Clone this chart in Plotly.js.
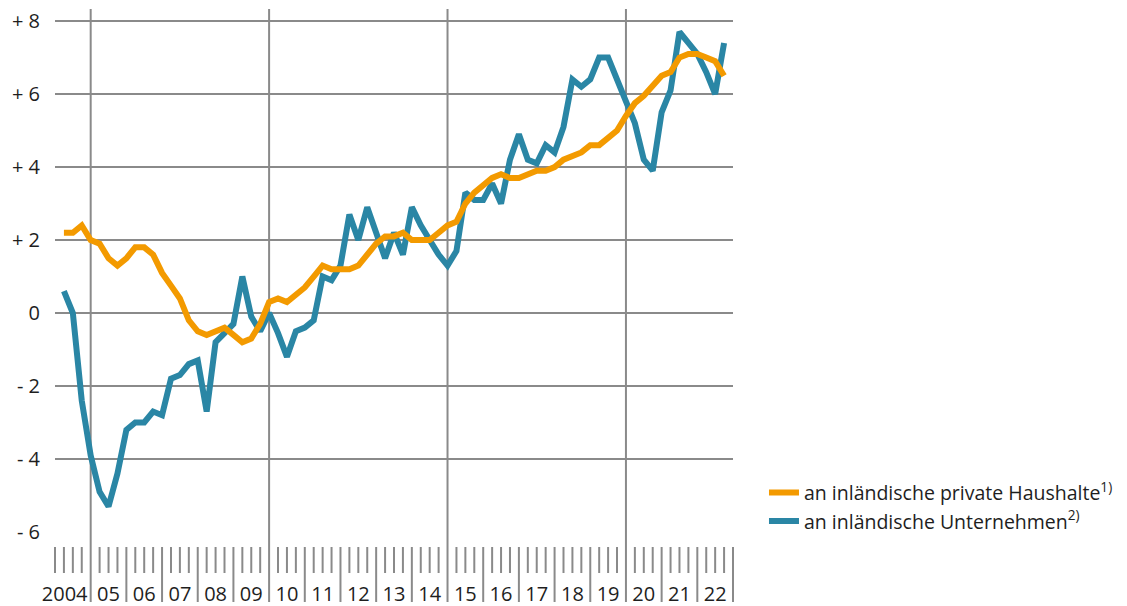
<!DOCTYPE html>
<html>
<head>
<meta charset="utf-8">
<script src="https://cdn.plot.ly/plotly-3.0.1.min.js"></script>
<style>
  html, body { margin: 0; padding: 0; background: #ffffff; }
  #chart { width: 1127px; height: 606px; }
</style>
</head>
<body>
<div id="chart"></div>
<script>
// Quarterly data, 2004 Q1 – 2022 Q3 (annual growth rates, %)
const startYear = 2004;
const endYear = 2023;

const households = [
  2.2, 2.2, 2.4, 2.0, 1.9, 1.5, 1.3, 1.5, 1.8, 1.8,
  1.6, 1.1, 0.75, 0.4, -0.2, -0.5, -0.6, -0.5, -0.4, -0.6,
  -0.8, -0.7, -0.3, 0.3, 0.4, 0.3, 0.5, 0.7, 1.0, 1.3,
  1.2, 1.2, 1.2, 1.3, 1.6, 1.9, 2.1, 2.1, 2.2, 2.0,
  2.0, 2.0, 2.2, 2.4, 2.5, 3.0, 3.3, 3.5, 3.7, 3.8,
  3.7, 3.7, 3.8, 3.9, 3.9, 4.0, 4.2, 4.3, 4.4, 4.6,
  4.6, 4.8, 5.0, 5.4, 5.75, 5.95, 6.2, 6.5, 6.6, 7.0,
  7.1, 7.1, 7.0, 6.9, 6.5
];

const companies = [
  0.6, 0.0, -2.4, -3.9, -4.9, -5.3, -4.4, -3.2, -3.0, -3.0,
  -2.7, -2.8, -1.8, -1.7, -1.4, -1.3, -2.7, -0.8, -0.55, -0.3,
  1.0, -0.1, -0.5, 0.0, -0.55, -1.2, -0.5, -0.4, -0.2, 1.0,
  0.9, 1.3, 2.7, 2.0, 2.9, 2.2, 1.5, 2.2, 1.6, 2.9,
  2.4, 2.0, 1.6, 1.3, 1.7, 3.3, 3.1, 3.1, 3.55, 3.0,
  4.2, 4.9, 4.2, 4.1, 4.6, 4.4, 5.1, 6.4, 6.2, 6.4,
  7.0, 7.0, 6.45, 5.8, 5.2, 4.2, 3.9, 5.5, 6.1, 7.7,
  7.4, 7.1, 6.6, 6.0, 7.4
];

const yearLabels = ["2004","05","06","07","08","09","10","11","12","13","14","15","16","17","18","19","20","21","22"];
const yTickVals = [-6, -4, -2, 0, 2, 4, 6, 8];
const yTickText = ["- 6", "- 4", "- 2", "0", "+ 2", "+ 4", "+ 6", "+ 8"];
const gridYears = [2005, 2010, 2015, 2020];

const seriesNames = [
  "an inländische private Haushalte<sup>1)</sup>",
  "an inländische Unternehmen<sup>2)</sup>"
];

// quarter-end positions
const xq = households.map((_, i) => startYear + 0.25 * (i + 1));
// label positions: year centres; the wide first label sits flush left of its separator
const yearCenters = yearLabels.map((_, i) => i === 0 ? startYear + 0.27 : startYear + i + 0.5);

const GRID = "#8a8a8a";
const ORANGE = "#f39a00";
const BLUE = "#2a86a5";
const TEXT = "#1e1e1e";
const FONT = "Open Sans, sans-serif";

const xr = [startYear, endYear];
const toPaper = v => (v - xr[0]) / (xr[1] - xr[0]);

const shapes = [];
// short quarter ticks and long year separators below the plot
for (let y = startYear; y <= endYear; y++) {
  for (let q = 0; q < 4; q++) {
    const v = y + q * 0.25;
    if (v > endYear) break;
    const isYear = (q === 0 && y > startYear);
    if (isYear) {
      const isGrid = gridYears.indexOf(y) >= 0;
      shapes.push({
        type: "line", xref: "paper", yref: "paper",
        x0: toPaper(v), x1: toPaper(v),
        y0: isGrid ? 1 : -0.0287, y1: -0.1338,
        line: { color: GRID, width: 2 }, layer: "below"
      });
    } else {
      shapes.push({
        type: "line", xref: "paper", yref: "paper",
        x0: toPaper(v), x1: toPaper(v),
        y0: -0.0287, y1: -0.0784,
        line: { color: GRID, width: 2 }, layer: "below"
      });
    }
  }
}

const traces = [
  {
    x: xq, y: companies, type: "scatter", mode: "lines",
    name: seriesNames[1],
    line: { color: BLUE, width: 6 }
  },
  {
    x: xq, y: households, type: "scatter", mode: "lines",
    name: seriesNames[0],
    line: { color: ORANGE, width: 6 }
  }
];

const layout = {
  width: 1127, height: 606,
  margin: { l: 55, r: 394, t: 9, b: 74 },
  paper_bgcolor: "#ffffff", plot_bgcolor: "#ffffff",
  font: { family: FONT, color: TEXT, size: 20 },
  showlegend: true,
  legend: {
    x: 1.0457, xanchor: "left",
    y: 0.112, yanchor: "top",
    traceorder: "reversed",
    font: { family: FONT, size: 19.5, color: TEXT },
    bgcolor: "rgba(0,0,0,0)",
    itemclick: false
  },
  xaxis: {
    range: xr,
    tickmode: "array", tickvals: yearCenters, ticktext: yearLabels,
    tickangle: 0,
    showgrid: false, zeroline: false, showline: false,
    ticks: "", ticklabelstandoff: 48,
    tickfont: { family: FONT, size: 20, color: TEXT },
    fixedrange: true
  },
  yaxis: {
    range: [-6, 8.33],
    tickmode: "array", tickvals: yTickVals, ticktext: yTickText,
    showgrid: true, gridcolor: GRID, gridwidth: 2,
    zeroline: false, showline: false,
    ticks: "", ticklabelstandoff: 14,
    tickfont: { family: FONT, size: 20, color: TEXT },
    fixedrange: true
  },
  shapes: shapes
};

Plotly.newPlot("chart", traces, layout, { displayModeBar: false, staticPlot: true });
</script>
</body>
</html>
